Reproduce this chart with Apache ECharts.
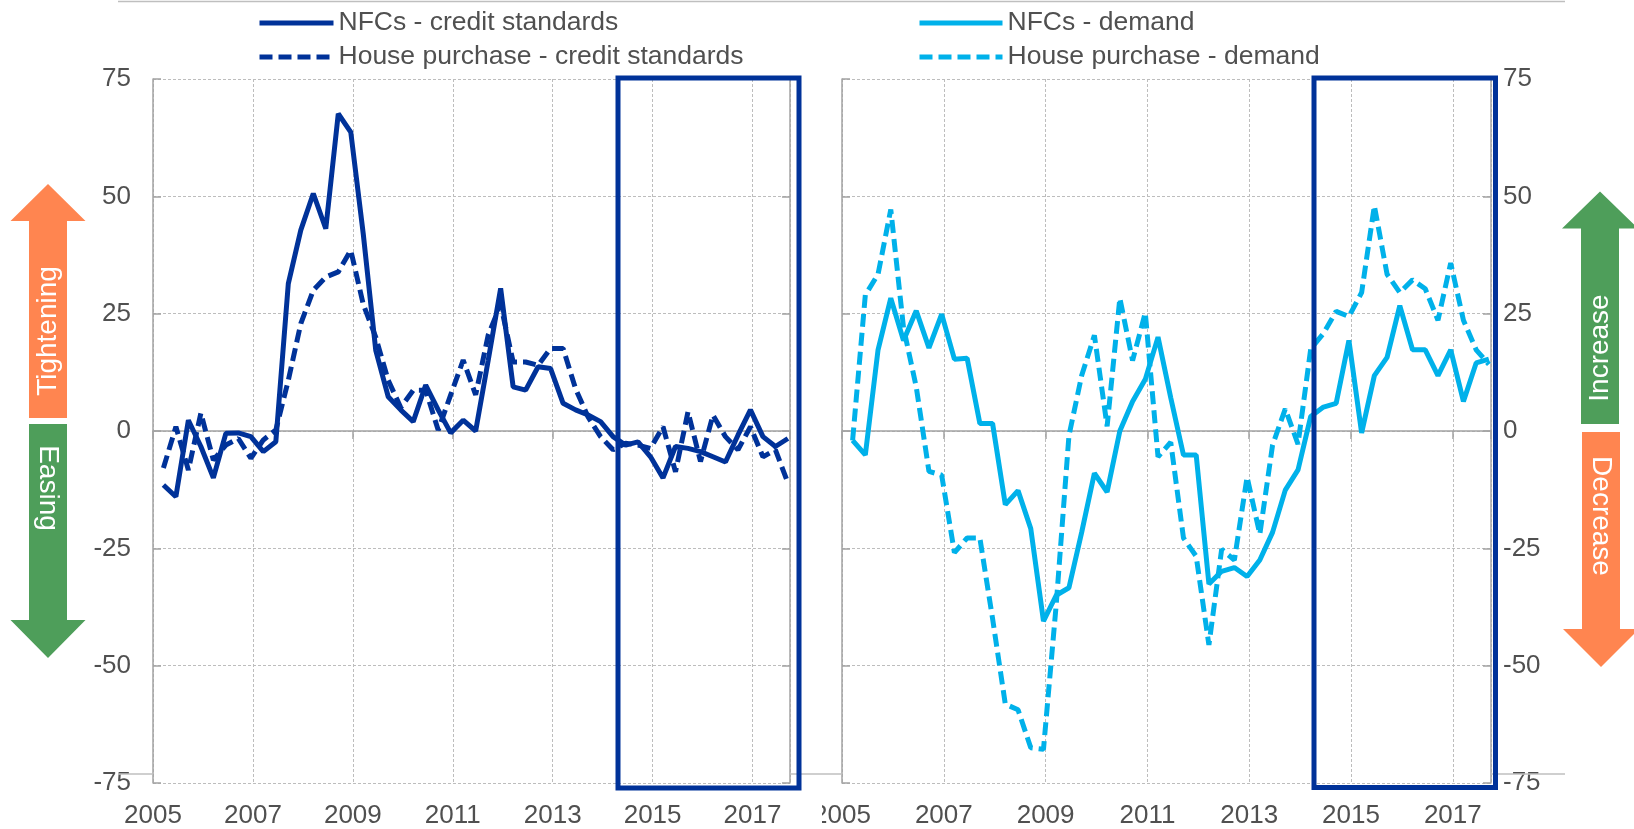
<!DOCTYPE html>
<html>
<head>
<meta charset="utf-8">
<script src="https://cdn.jsdelivr.net/npm/echarts@6/dist/echarts.min.js"></script>
<style>
html,body{margin:0;padding:0;background:#ffffff;}
#chart{width:1634px;height:829px;}
</style>
</head>
<body>
<div id="chart"></div>
<script>
// ---------- data ----------
const quarters = [
  '2005Q1','2005Q2','2005Q3','2005Q4','2006Q1','2006Q2','2006Q3','2006Q4',
  '2007Q1','2007Q2','2007Q3','2007Q4','2008Q1','2008Q2','2008Q3','2008Q4',
  '2009Q1','2009Q2','2009Q3','2009Q4','2010Q1','2010Q2','2010Q3','2010Q4',
  '2011Q1','2011Q2','2011Q3','2011Q4','2012Q1','2012Q2','2012Q3','2012Q4',
  '2013Q1','2013Q2','2013Q3','2013Q4','2014Q1','2014Q2','2014Q3','2014Q4',
  '2015Q1','2015Q2','2015Q3','2015Q4','2016Q1','2016Q2','2016Q3','2016Q4',
  '2017Q1','2017Q2','2017Q3'
];
const nfcCreditStandards = [
  -11.5,-14,2.3,-3.3,-10,-0.5,-0.4,-1.2,-4.4,-2.3,31.4,42.8,50.6,43.1,67.6,63.7,
  42,17.2,7.3,4.5,2,9.8,4.5,-0.4,2.3,0,15,30.4,9.4,8.7,13.7,13.3,
  5.9,4.5,3.4,2,-1.2,-3,-2.3,-5.5,-10,-3.3,-3.7,-4.4,-5.5,-6.6,-0.9,4.5,
  -1.2,-3.3,-1.6
];
const housePurchaseCreditStandards = [
  -7.9,0.9,-8.3,3.8,-6.2,-3,-1.6,-5.8,-1.9,0.2,10.8,22.9,30,32.8,33.9,38.5,
  27,20,10.8,5,8.7,8.7,0.2,7.7,15.1,7.7,20.4,27,14.7,14.7,14,17.6,
  17.6,9,3,-1.2,-4,-2.6,-3,-3.7,0.9,-8.7,4.1,-6.5,3.4,-1.2,-4,0.9,
  -5.5,-4,-11.1
];
const nfcDemand = [
  -2,-5.1,17.3,28.3,19.3,25.6,17.7,24.9,15.3,15.5,1.6,1.6,-15.7,-12.7,-20.8,-40.5,
  -35,-33.4,-21.6,-9,-13,0,6.3,11,20,7.1,-5.1,-5.1,-32.6,-29.9,-29.1,-31,
  -27.5,-21.6,-12.6,-8.3,3.1,5.1,5.9,19.3,-0.4,11.8,15.7,26.7,17.3,17.3,11.8,17.3,
  6.3,14.5,15.3
];
const housePurchaseDemand = [
  -2,29,33.4,47.2,22,9.4,-8.6,-9.4,-25.9,-22.8,-22.8,-40,-58.2,-59.4,-67.5,-67.8,
  -37,-1,11.8,20.4,1,28.3,15,25.2,-5.5,-2.4,-22.8,-26.7,-45.6,-25.2,-27.5,-9.8,
  -22,-3,4.7,-2.8,17.5,20.8,25.5,24.4,29.5,48,33.4,29.5,32.2,30.3,23.6,35.8,
  23.6,17.3,14.2
];
const yTicks = [-75,-50,-25,0,25,50,75];
const xYearLabels = [2005,2007,2009,2011,2013,2015,2017];
const seriesNames = ['NFCs - credit standards','House purchase - credit standards','NFCs - demand','House purchase - demand'];

// ---------- helpers ----------
const FONT = "'Liberation Sans', Arial, sans-serif";
const DARK = '#003299';
const LIGHT = '#00B1EA';
const TXT = '#505050';
const GRIDC = '#BDBDBD';
const AXC = '#A3A3A3';
const ORANGE = '#FF8550';
const GREEN = '#4E9E5A';
const firstYear = xYearLabels[0];
// month index since Jan of first year; quarterly value sits in mid of the quarter's last month
function qPos(label){
  const y = +label.slice(0,4), q = +label.slice(5);
  return (y - firstYear) * 12 + q * 3 - 0.5;
}
function pts(vals){ return quarters.map((q,i)=>[qPos(q), vals[i]]); }
const xMax = qPos(quarters[quarters.length-1]) + 0.5;
const xStep = (xYearLabels[1]-xYearLabels[0]) * 12;
const yMin = yTicks[0], yMax = yTicks[yTicks.length-1], yStep = yTicks[1]-yTicks[0];

function xAxesFor(g){
  return [
    { gridIndex:g, type:'value', min:0, max:xMax, interval:xStep,
      axisLine:{show:false, onZero:false}, axisTick:{show:false},
      axisLabel:{ formatter: v => (v % 12 === 0 ? String(firstYear + v/12) : ''),
        fontSize:26, color:TXT, fontFamily:FONT, margin:20, showMaxLabel:false },
      splitLine:{show:true, lineStyle:{color:GRIDC, type:[3,2], width:1}} },
    { gridIndex:g, type:'value', min:0, max:xMax, interval:xStep, position:'bottom',
      axisLine:{show:true, onZero:true, lineStyle:{color:AXC, width:1.5}},
      axisTick:{show:true, length:8, lineStyle:{color:AXC, width:1.5}},
      axisLabel:{show:false}, splitLine:{show:false} }
  ];
}
function yAxesFor(g, labelSide, margin){
  const other = labelSide === 'left' ? 'right' : 'left';
  return [
    { gridIndex:g, type:'value', position:labelSide, min:yMin, max:yMax, interval:yStep,
      axisLine:{show:true, onZero:false, lineStyle:{color:AXC, width:1.5}},
      axisTick:{show:true, inside:true, length:8, lineStyle:{color:AXC, width:1.5}},
      axisLabel:{fontSize:26, color:TXT, fontFamily:FONT, margin:margin},
      splitLine:{show:true, lineStyle:{color:GRIDC, type:[3,2], width:1}} },
    { gridIndex:g, type:'value', position:other, min:yMin, max:yMax, interval:yStep,
      axisLine:{show:true, onZero:false, lineStyle:{color:AXC, width:1.5}},
      axisTick:{show:true, inside:true, length:8, lineStyle:{color:AXC, width:1.5}},
      axisLabel:{show:false}, splitLine:{show:false} }
  ];
}
function lineSeries(name, vals, color, dashed, xi, yi){
  return { name, type:'line', xAxisIndex:xi, yAxisIndex:yi, data:pts(vals),
    symbol:'none', smooth:false, z: dashed ? 3 : 4,
    lineStyle:{color, width:5, type: dashed ? [13,6] : 'solid'},
    itemStyle:{color} };
}
const legendCommon = {
  orient:'vertical', top:3, itemHeight:14, itemGap:4,
  textStyle:{fontSize:26.5, color:TXT, fontFamily:FONT, lineHeight:30},
  lineStyle:{width:5}, itemStyle:{opacity:0, borderWidth:0}, selectedMode:false
};

function arrowUp(cx, tip, base, bottom, headHalf, shaftHalf){
  return [[cx,tip],[cx+headHalf,base],[cx+shaftHalf,base],[cx+shaftHalf,bottom],
          [cx-shaftHalf,bottom],[cx-shaftHalf,base],[cx-headHalf,base]];
}
function arrowDown(cx, top, base, tip, headHalf, shaftHalf){
  return [[cx-shaftHalf,top],[cx+shaftHalf,top],[cx+shaftHalf,base],[cx+headHalf,base],
          [cx,tip],[cx-headHalf,base],[cx-shaftHalf,base]];
}
function vText(text, x, y, rot){
  return { type:'text', x, y, rotation:rot, z:110,
    style:{text, fill:'#ffffff', fontSize:28, fontFamily:FONT, align:'center', verticalAlign:'middle'} };
}
function hLine(x1,x2,y){
  return { type:'line', z:90, shape:{x1,y1:y,x2,y2:y}, style:{stroke:'#BFBFBF', lineWidth:1.5} };
}

const option = {
  animation:false,
  backgroundColor:'#ffffff',
  grid:[
    {left:153, top:79, width:637, height:706},
    {left:842, top:79, width:649, height:706}
  ],
  xAxis:[...xAxesFor(0), ...xAxesFor(1)],
  yAxis:[...yAxesFor(0,'left',22), ...yAxesFor(1,'right',12)],
  legend:[
    Object.assign({}, legendCommon, {left:252, itemWidth:74, data:[seriesNames[0], seriesNames[1]]}),
    Object.assign({}, legendCommon, {left:912, itemWidth:83, data:[seriesNames[2], seriesNames[3]]})
  ],
  series:[
    lineSeries(seriesNames[1], housePurchaseCreditStandards, DARK, true, 0, 0),
    lineSeries(seriesNames[0], nfcCreditStandards, DARK, false, 0, 0),
    lineSeries(seriesNames[3], housePurchaseDemand, LIGHT, true, 2, 2),
    lineSeries(seriesNames[2], nfcDemand, LIGHT, false, 2, 2)
  ],
  graphic:[
    hLine(118,1565,1.5),
    hLine(118,153,774), hLine(790,842,774), hLine(1491,1565,774),
    { type:'rect', z:100, shape:{x:618, y:78, width:181, height:710},
      style:{fill:'none', stroke:DARK, lineWidth:5} },
    { type:'rect', z:100, shape:{x:1314, y:78, width:181.5, height:709.5},
      style:{fill:'none', stroke:DARK, lineWidth:5} },
    { type:'rect', z:100, shape:{x:803, y:793, width:19, height:36}, style:{fill:'#ffffff'} },
    { type:'polygon', z:100, shape:{points:arrowUp(48,184,221,418,37.5,19)}, style:{fill:ORANGE} },
    { type:'polygon', z:100, shape:{points:arrowDown(48,424,620,658,37.5,19)}, style:{fill:GREEN} },
    { type:'polygon', z:100, shape:{points:arrowUp(1600,191.5,228.5,424,38,19)}, style:{fill:GREEN} },
    { type:'polygon', z:100, shape:{points:arrowDown(1601,432,629,667,38,19)}, style:{fill:ORANGE} },
    vText('Tightening', 48, 331, Math.PI/2),
    vText('Easing', 48, 488, -Math.PI/2),
    vText('Increase', 1600, 348, Math.PI/2),
    vText('Decrease', 1601, 516, -Math.PI/2)
  ]
};
const chart = echarts.init(document.getElementById('chart'), null, {renderer:'canvas'});
chart.setOption(option);
</script>
</body>
</html>
